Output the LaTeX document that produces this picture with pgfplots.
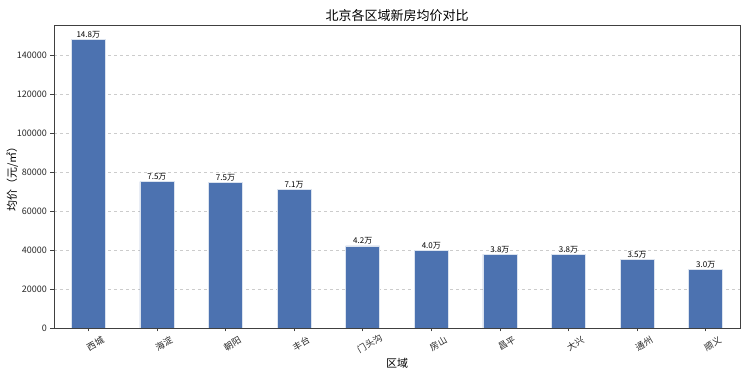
\documentclass[border=0pt]{standalone}
\usepackage{fontspec}
\setmainfont{Noto Sans CJK SC}
\usepackage{pgfplots}
\pgfplotsset{compat=1.18}
\usepackage{pgfplotstable}
\definecolor{barblue}{HTML}{4C72B0}
\pgfplotstableread{
x y lab
0 148200 14.8万
1 75100 7.5万
2 74800 7.5万
3 70900 7.1万
4 42100 4.2万
5 40000 4.0万
6 37900 3.8万
7 37600 3.8万
8 35300 3.5万
9 30200 3.0万
}\data
\begin{document}
\begin{tikzpicture}[x=1pt,y=1pt]
\useasboundingbox (0,0) rectangle (750,375);
\begin{axis}[
  at={(54pt,47pt)}, anchor=south west,
  scale only axis, width=686pt, height=303pt,
  xmin=-0.5, xmax=9.5, ymin=0, ymax=155400,
  xtick=data,
  xticklabels={西城,海淀,朝阳,丰台,门头沟,房山,昌平,大兴,通州,顺义},
  ytick={0,20000,40000,60000,80000,100000,120000,140000},
  scaled y ticks=false,
  /pgf/number format/.cd, fixed, 1000 sep={}, assume math mode=true,
  /pgfplots/.cd,
  tick align=outside, tick pos=left,
  major tick length=3.5pt,
  tick style={black!75, line width=0.6pt},
  axis line style={black!75, line width=0.8pt},
  ymajorgrids, grid style={black!20, dashed, line width=0.5pt},
  ticklabel style={font=\fontsize{9}{10}\selectfont, text=black!85},
  xticklabel style={rotate=30, anchor=center, yshift=-14pt},
  title={北京各区域新房均价对比},
  title style={font=\fontsize{13}{15}\selectfont, yshift=-6pt},
  xlabel={区域}, ylabel={均价（元/㎡）},
  label style={font=\fontsize{11}{13}\selectfont},
  xlabel style={yshift=4pt},
  ylabel style={yshift=-8pt},
  ybar, bar width=34pt,
  nodes near coords,
  point meta=explicit symbolic,
  nodes near coords style={font=\fontsize{8}{9}\selectfont, inner sep=1pt, text=black},
]
\addplot[fill=barblue, draw=white!80!barblue, line width=0.6pt] table[x=x, y=y, meta=lab] {\data};
\end{axis}
\end{tikzpicture}
\end{document}
